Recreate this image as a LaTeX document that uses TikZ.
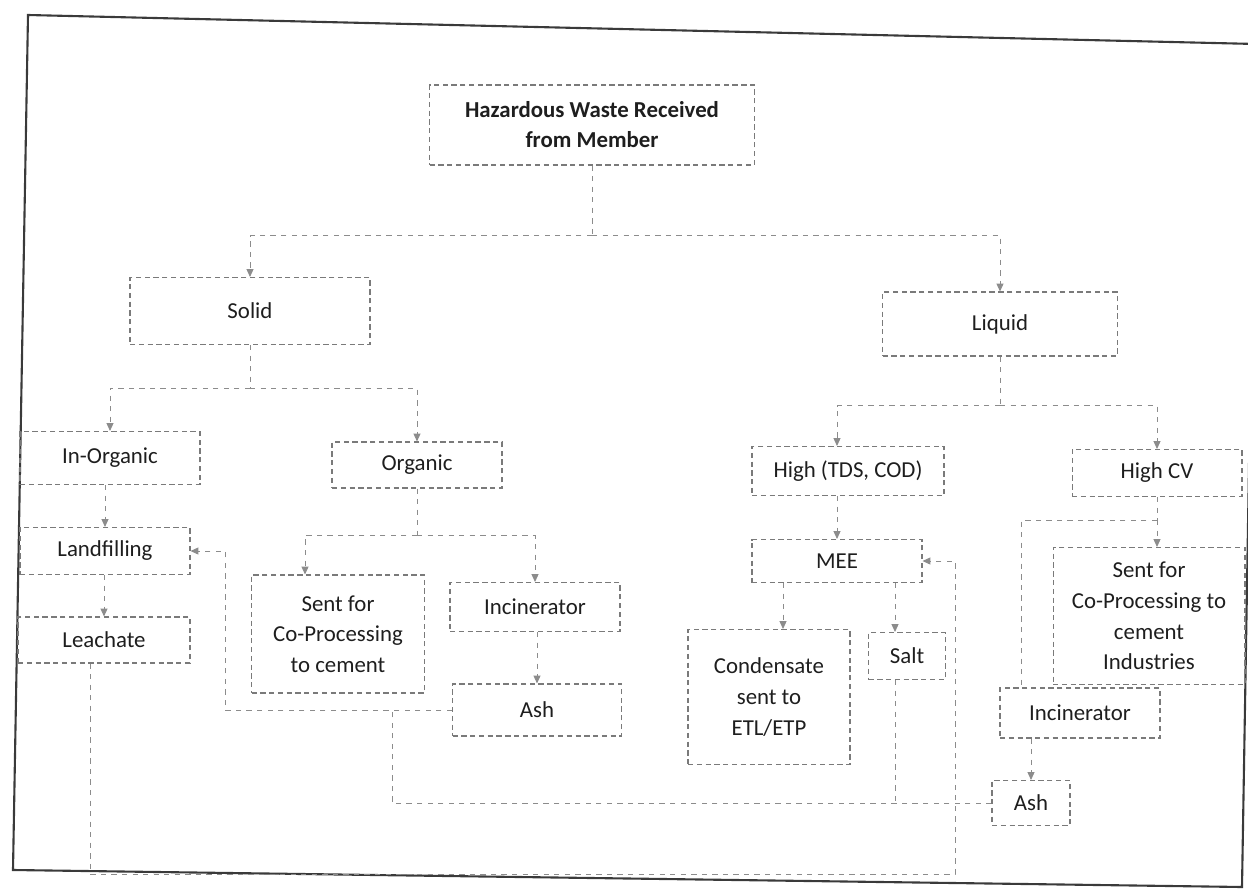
\documentclass[tikz,border=0pt]{standalone}
\usepackage{fontspec}
\setmainfont{Carlito}
\usetikzlibrary{arrows.meta,positioning,calc}
\definecolor{wline}{HTML}{8C8C8C}
\definecolor{wbox}{HTML}{7A7A7A}
\definecolor{wtext}{HTML}{1E1E1E}
\definecolor{wframe}{HTML}{3A3A3A}

\begin{document}
\begin{tikzpicture}[
    x=0.02cm, y=-0.02cm,
    box/.style={draw=wbox, densely dashed, line width=0.6pt,
                font=\fontsize{13}{17.5}\selectfont, text=wtext, align=center,
                inner sep=2pt},
    link/.style={draw=wline, dashed, line width=0.5pt},
    arr/.style={link, -{Triangle[length=4.5pt,width=4pt]}},
    frame/.style={draw=wframe, line width=1.2pt}
]
  \clip (0,0) rectangle (1248,889);
  % page frame
  \draw[frame] (28,15) -- (1256,44) -- (1242,887) -- (13,870) -- cycle;

  % top of the tree
  \node[box, minimum width=6.5cm, minimum height=1.6cm,
        font=\fontsize{13}{17}\selectfont\bfseries] (top) at (592,125)
        {Hazardous Waste Received\\from Member};
  \node[box, minimum width=4.8cm, minimum height=1.34cm] (solid) at (250,311) {Solid};
  \node[box, minimum width=4.7cm, minimum height=1.28cm] (liquid) at (1000,324) {Liquid};

  % solid side
  \node[box, minimum width=3.6cm, minimum height=1.06cm] (inorg) at (110,458) {In-Organic};
  \node[box, minimum width=3.4cm, minimum height=0.92cm] (org) at (417,465) {Organic};
  \node[box, minimum width=3.4cm, minimum height=0.94cm] (landf) at (105,551) {Landfilling};
  \node[box, minimum width=3.44cm, minimum height=0.92cm] (leach) at (104,640) {Leachate};
  \node[box, minimum width=3.46cm, minimum height=2.36cm] (cop) at (338,634)
        {Sent for\\Co-Processing\\to cement};
  \node[box, minimum width=3.4cm, minimum height=0.98cm] (incL) at (535,607) {Incinerator};
  \node[box, minimum width=3.38cm, minimum height=1.04cm] (ashL) at (537,710) {Ash};

  % liquid side
  \node[box, minimum width=3.84cm, minimum height=0.98cm] (tds) at (848,471) {High (TDS, COD)};
  \node[box, minimum width=3.4cm, minimum height=0.94cm] (hcv) at (1157,473) {High CV};
  \node[box, minimum width=3.4cm, minimum height=0.86cm] (mee) at (837,561) {MEE};
  \node[box, minimum width=3.24cm, minimum height=2.7cm] (cond) at (769,697)
        {Condensate\\sent to\\ETL/ETP};
  \node[box, minimum width=1.54cm, minimum height=0.94cm] (salt) at (907,656) {Salt};
  \node[box, minimum width=3.84cm, minimum height=2.74cm] (copR) at (1149,616)
        {Sent for\\Co-Processing to\\cement\\Industries};
  \node[box, minimum width=3.2cm, minimum height=1.0cm] (incR) at (1080,713) {Incinerator};
  \node[box, minimum width=1.56cm, minimum height=0.9cm] (ashR) at (1031,803) {Ash};

  % first split
  \draw[link] (top.south) -- ++(0,70) coordinate (jtop);
  \draw[arr] (jtop) -| (solid.north);
  \draw[arr] (jtop) -| (liquid.north);

  % solid branches
  \draw[link] (solid.south) -- ++(0,43) coordinate (jsol);
  \draw[arr] (jsol) -| (inorg.north);
  \draw[arr] (jsol) -| (org.north);
  \draw[arr] (inorg.south -| landf.north) -- (landf.north);
  \draw[arr] (landf.south -| leach.north) -- (leach.north);
  \draw[link] (org.south) -- ++(0,47) coordinate (jorg);
  \coordinate (copx) at ($(cop.north)+(-33,0)$);
  \draw[arr] (jorg) -| (copx);
  \draw[arr] (jorg) -| (incL.north);
  \draw[arr] (incL.south -| ashL.north) -- (ashL.north);

  % liquid branches
  \draw[link] (liquid.south) -- ++(0,49) coordinate (jliq);
  \draw[arr] (jliq) -| (mee.north |- tds.north);
  \draw[arr] (jliq) -| (hcv.north);
  \draw[arr] (tds.south -| mee.north) -- (mee.north);
  \coordinate (condx) at ($(cond.north)+(14,0)$);
  \coordinate (saltx) at ($(salt.north)+(-12,0)$);
  \draw[arr] (condx |- mee.south) -- (condx);
  \draw[arr] (saltx |- mee.south) -- (saltx);
  \draw[link] (hcv.south) -- ++(0,23) coordinate (jhcv);
  \draw[arr] (jhcv) -- (jhcv |- copR.north);
  \draw[link] (jhcv) -| ($(incR.north west)+(22,0)$);
  \draw[arr] (ashR.north |- incR.south) -- (ashR.north);

  % returns to landfilling and MEE
  \coordinate (lbend) at (225,710);
  \coordinate (mbend) at (392,710);
  \coordinate (leachx) at ($(leach.south)+(-14,0)$);
  \coordinate (bot) at (955,874);
  \draw[arr] (ashL.west) -- (lbend) |- (landf.east);
  \draw[link] (ashR.west) -| (mbend);
  \draw[link] (saltx |- salt.south) -- (saltx |- ashR.west);
  \draw[arr] (leachx) |- (bot) |- (mee.east);
\end{tikzpicture}
\end{document}
